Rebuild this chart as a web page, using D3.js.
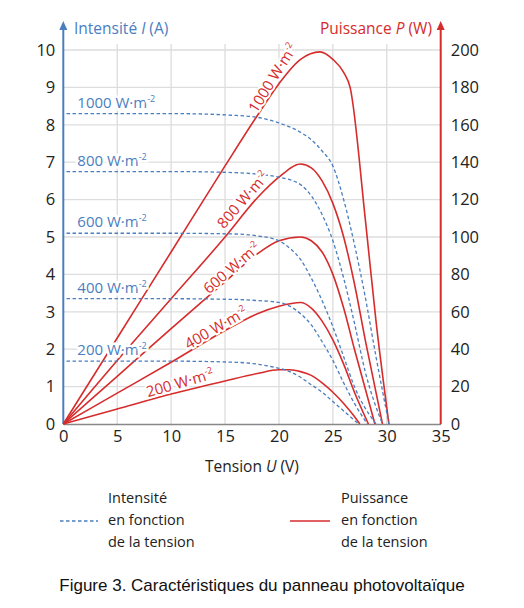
<!DOCTYPE html><html><head><meta charset="utf-8"><script src="https://cdn.jsdelivr.net/npm/d3@7"></script>
<style>body{margin:0;background:#fff}text{font-family:"Open Sans",sans-serif}text.cap{font-family:"Liberation Sans",Arial,sans-serif}</style></head><body><svg id="c" width="524" height="608"></svg>
<script>
const irradiances=["1000","800","600","400","200"];
const current1000=[[0.3,8.3],[10,8.3],[16,8.25],[18,8.2],[20,8.05],[22,7.8],[23,7.6],[24,7.3],[25,6.9],[26,6.0],[27,4.8],[28,3.4],[29,1.8],[30.2,0]];
const current800=[[0.3,6.75],[10,6.75],[16,6.72],[18,6.68],[20,6.6],[22,6.4],[23,6.1],[24,5.6],[25,4.9],[26,3.9],[27,2.7],[28,1.4],[29.6,0]];
const current600=[[0.3,5.1],[10,5.1],[16,5.08],[18,5.03],[20,4.9],[21,4.7],[22,4.4],[23,3.9],[24,3.3],[25,2.6],[26,1.8],[27,1.0],[29.0,0]];
const current400=[[0.3,3.35],[10,3.35],[16,3.33],[18,3.3],[20,3.25],[21,3.15],[22,2.95],[23,2.65],[24,2.2],[25,1.7],[26,1.1],[27,0.55],[28.2,0]];
const current200=[[0.3,1.68],[10,1.68],[16,1.65],[19,1.55],[21,1.4],[22,1.25],[23,1.05],[24,0.85],[25,0.6],[26,0.35],[27.4,0]];
const power1000=[[0,0],[5,46],[10,92],[15,138],[18,165],[20,182],[22,195],[23.8,199],[25,195],[26,188],[26.6,180],[28,110],[29,55],[30.2,0]];
const power800=[[0,0],[5,34],[10,67],[15,100],[18,121],[20,132],[22,139],[23,137],[24,130],[25,118],[26,100],[27,75],[28,45],[29.6,0]];
const power600=[[0,0],[5,25.5],[10,51],[15,76],[18,91],[20,98],[22,100],[23,98],[24,92],[25,80],[26,62],[27,40],[28.9,0]];
const power400=[[0,0],[5,16.5],[10,33],[15,50],[18,59],[20,63],[22,65],[23,62],[24,55],[25,45],[26,32],[27,17],[28.3,0]];
const power200=[[0,0],[5,8],[10,16],[15,23],[18,27],[20,29],[21,29],[22,28],[23,26],[24,22],[25,17],[26,11],[27,4],[27.5,0]];
const xTicks=[0,5,10,15,20,25,30,35];
const iTicks=[0,1,2,3,4,5,6,7,8,9,10];
const pTicks=[0,20,40,60,80,100,120,140,160,180,200];
const currents=[current1000,current800,current600,current400,current200];
const powers=[power1000,power800,power600,power400,power200];

const svg=d3.select("#c");
const BLUE="#4a7ebf",RED="#d62c2c";
const x=d3.scaleLinear().domain([0,35]).range([63.3,440.7]);
const yI=d3.scaleLinear().domain([0,10]).range([424,50]);
const yP=d3.scaleLinear().domain([0,200]).range([424,50]);
svg.append("g").selectAll("line").data(xTicks.slice(1)).join("line")
 .attr("x1",d=>x(d)).attr("x2",d=>x(d)).attr("y1",yI(0)).attr("y2",44).attr("stroke","#ddd").attr("stroke-width",1.3);
svg.append("g").selectAll("line").data(iTicks.slice(1)).join("line")
 .attr("x1",x(0)).attr("x2",x(35)).attr("y1",d=>yI(d)).attr("y2",d=>yI(d)).attr("stroke","#ddd").attr("stroke-width",1.3);
const fs=16.5;
svg.append("g").call(d3.axisBottom(x).tickValues(xTicks).tickSize(0).tickPadding(6)).call(g=>{g.select(".domain").attr("stroke","#888").attr("stroke-width",1.5);g.selectAll("text").attr("font-size",fs).attr("fill","#222").attr("font-family","Open Sans")}).attr("transform",`translate(0,${yI(0)})`);
svg.append("g").call(d3.axisLeft(yI).tickValues(iTicks).tickSize(0).tickPadding(8)).call(g=>{g.select(".domain").remove();g.selectAll("text").attr("font-size",fs).attr("fill","#222").attr("font-family","Open Sans")}).attr("transform",`translate(${x(0)},0)`);
svg.append("g").call(d3.axisRight(yP).tickValues(pTicks).tickSize(0).tickPadding(10)).call(g=>{g.select(".domain").remove();g.selectAll("text").attr("font-size",fs).attr("fill","#222").attr("font-family","Open Sans")}).attr("transform",`translate(${x(35)},0)`);
svg.append("line").attr("x1",x(0)).attr("x2",x(0)).attr("y1",yI(0)).attr("y2",28).attr("stroke",BLUE).attr("stroke-width",2);
svg.append("path").attr("d",`M${x(0)-4},30L${x(0)},21L${x(0)+4},30Z`).attr("fill",BLUE);
svg.append("line").attr("x1",x(35)).attr("x2",x(35)).attr("y1",yI(0)).attr("y2",28).attr("stroke",RED).attr("stroke-width",2);
svg.append("path").attr("d",`M${x(35)-4},30L${x(35)},21L${x(35)+4},30Z`).attr("fill",RED);
const t1=svg.append("text").attr("x",74).attr("y",34).attr("fill",BLUE).attr("font-size",15.5);
t1.append("tspan").text("Intensité ");t1.append("tspan").attr("font-style","italic").text("I");t1.append("tspan").text(" (A)");
const t2=svg.append("text").attr("x",432).attr("y",34).attr("text-anchor","end").attr("fill",RED).attr("font-size",15.5);
t2.append("tspan").text("Puissance ");t2.append("tspan").attr("font-style","italic").text("P");t2.append("tspan").text(" (W)");
const t3=svg.append("text").attr("x",252).attr("y",472).attr("text-anchor","middle").attr("fill","#222").attr("font-size",15.5);
t3.append("tspan").text("Tension ");t3.append("tspan").attr("font-style","italic").text("U");t3.append("tspan").text(" (V)");
const lineI=d3.line().x(d=>x(d[0])).y(d=>yI(d[1])).curve(d3.curveMonotoneX);
const lineP=d3.line().x(d=>x(d[0])).y(d=>yP(d[1])).curve(d3.curveMonotoneX);
svg.append("g").selectAll("path").data(powers).join("path").attr("d",lineP).attr("fill","none").attr("stroke",RED).attr("stroke-width",1.6);
svg.append("g").selectAll("path").data(currents).join("path").attr("d",lineI).attr("fill","none").attr("stroke",BLUE).attr("stroke-width",1.3).attr("stroke-dasharray","3.5,2.5");
function lab(g,txt){g.append("tspan").text(txt+" W·m");g.append("tspan").attr("font-size",9).attr("dy",-6).text("-2");}
currents.forEach((c,i)=>{
 const t=svg.append("text").attr("x",x(1.3)).attr("y",yI(c[0][1])-6).attr("fill",BLUE).attr("font-size",15)
  .attr("stroke","#fff").attr("stroke-width",5).attr("paint-order","stroke");
 lab(t,irradiances[i]);
});
const redLab=[[273,78,-58],[243,200,-49],[232,268,-41],[216,328,-30],[180,383,-16]];
redLab.forEach((r,i)=>{
 const t=svg.append("text").attr("transform",`translate(${r[0]},${r[1]}) rotate(${r[2]})`).attr("text-anchor","middle").attr("dy",5)
  .attr("fill",RED).attr("font-size",15).attr("stroke","#fff").attr("stroke-width",4).attr("paint-order","stroke");
 lab(t,irradiances[i]);
});
svg.append("line").attr("x1",60).attr("x2",98).attr("y1",521).attr("y2",521).attr("stroke",BLUE).attr("stroke-width",1.3).attr("stroke-dasharray","3.5,2.5");
svg.append("line").attr("x1",290).attr("x2",330).attr("y1",521).attr("y2",521).attr("stroke",RED).attr("stroke-width",1.6);
[["Intensité","en fonction","de la tension",108],["Puissance","en fonction","de la tension",341]].forEach(l=>{
 l.slice(0,3).forEach((s,j)=>svg.append("text").attr("x",l[3]).attr("y",503+j*22).attr("font-size",14.5).attr("fill","#222").text(s));
});
svg.append("text").attr("class","cap").attr("x",262).attr("y",591).attr("text-anchor","middle").attr("font-size",17).attr("fill","#111").text("Figure 3. Caractéristiques du panneau photovoltaïque");
</script></body></html>
